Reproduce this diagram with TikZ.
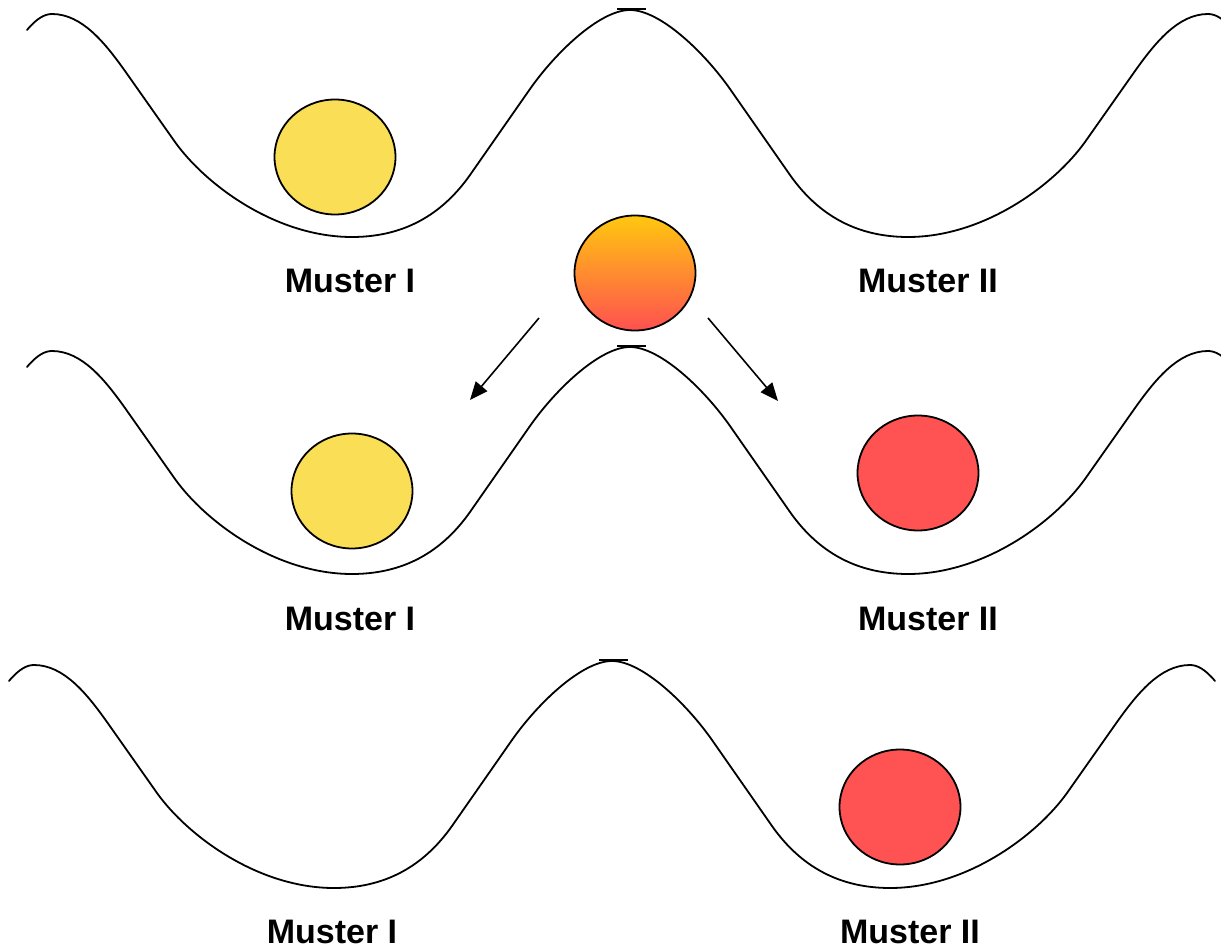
\documentclass[tikz,border=0pt]{standalone}
\usepackage{fontspec}
\setmainfont{Liberation Sans}
\usetikzlibrary{arrows.meta,shapes.geometric}
\definecolor{ballyellow}{RGB}{250,222,85}
\definecolor{ballred}{RGB}{255,82,82}
\definecolor{gradtop}{RGB}{255,200,15}
\definecolor{gradmid}{RGB}{255,155,55}
\definecolor{gradbot}{RGB}{255,80,80}
\begin{document}
\begin{tikzpicture}[x=1pt,y=-1pt,
  curve/.style={line width=1.8pt, line join=round, line cap=round},
  peakmark/.style={line width=2.6pt},
  ball/.style={ellipse, draw, line width=1.8pt, inner sep=0pt,
    minimum width=121pt, minimum height=115pt},
  label/.style={font=\bfseries\fontsize{34}{40}\selectfont, anchor=base, inner sep=0pt},
  move/.style={line width=1.6pt, -{Triangle[length=18pt,width=15pt]}},
  well/.pic={
    % double-well potential, symmetric about x = 630
    \draw[curve] (27,30)
      .. controls (37,18) and (45,14) .. (52,14)
      .. controls (82,14) and (105,43) .. (125,71)
      -- (175,142)
      .. controls (205,184) and (275,237) .. (352,237)
      .. controls (410,237) and (446,209) .. (470,175)
      -- (530,89)
      .. controls (556,52) and (600,10) .. (630,10)
      .. controls (660,10) and (704,52) .. (730,89)
      -- (790,175)
      .. controls (814,209) and (850,237) .. (908,237)
      .. controls (985,237) and (1055,184) .. (1085,142)
      -- (1135,71)
      .. controls (1155,43) and (1178,14) .. (1208,14)
      .. controls (1215,14) and (1223,18) .. (1233,30);
    \draw[peakmark] (617,9) -- (646,9);
  }]
\useasboundingbox (0,0) rectangle (1221,949);
\clip (0,0) rectangle (1221,949);

% three double wells
\pic at (0,0) {well};
\pic at (0,337) {well};
\pic at (-18,651) {well};

% balls
\node[ball, fill=ballyellow] (b1) at (335,157) {};
\node[ball, top color=gradtop, middle color=gradmid, bottom color=gradbot] (bmix) at (635,273) {};
\node[ball, fill=ballyellow] (b2) at (352,491) {};
\node[ball, fill=ballred] (b3) at (918,473) {};
\node[ball, fill=ballred] (b4) at (900,807) {};

% branching arrows
\coordinate (la) at (539,318);
\coordinate (lb) at (470,400);
\coordinate (ra) at (708,318);
\coordinate (rb) at (778,401);
\draw[move] (la) -- (lb);
\draw[move] (ra) -- (rb);

% labels
\node[label] (t1) at (350,293) {Muster I};
\node[label] (t2) at (928,293) {Muster II};
\node[label] (t3) at (350,630) {Muster I};
\node[label] (t4) at (928,630) {Muster II};
\node[label] (t5) at (332,943) {Muster I};
\node[label] (t6) at (910,943) {Muster II};
\end{tikzpicture}
\end{document}
